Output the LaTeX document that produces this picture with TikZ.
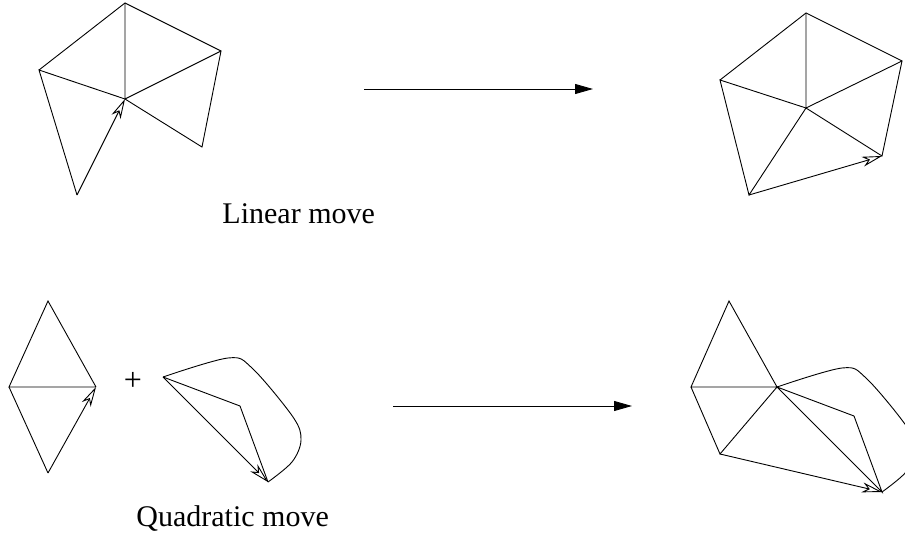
\documentclass[tikz,border=0pt]{standalone}
\usepackage{fontspec}
\setmainfont{Liberation Serif}
\usetikzlibrary{arrows.meta}

\begin{document}
\begin{tikzpicture}[x=1pt, y=-1pt, line width=0.9pt, >={Triangle[length=18pt,width=10pt]},
  vec/.style={-{Stealth[open,length=20pt,width=10pt,inset=6pt]}},
  lbl/.style={inner sep=0pt, anchor=base west, font=\fontsize{30}{36}\selectfont}]
  \clip (0,0) rectangle (905,543);

  % linear move, before
  \coordinate (t1) at (125,3);
  \coordinate (l1) at (39,70);
  \coordinate (r1) at (221,51);
  \coordinate (c1) at (125,99);
  \coordinate (b1) at (77,195);
  \coordinate (d1) at (202,147);
  \draw (l1) -- (t1) -- (r1) -- (d1) -- (c1) -- (l1) -- (b1);
  \draw (t1) -- (c1) -- (r1);
  \draw[vec] (b1) -- (c1);

  % linear move, after
  \coordinate (t2) at (806,13);
  \coordinate (l2) at (720,80);
  \coordinate (r2) at (902,61);
  \coordinate (c2) at (806,108);
  \coordinate (b2) at (749,195);
  \coordinate (d2) at (882,156);
  \draw (l2) -- (t2) -- (r2) -- (d2) -- (c2) -- (l2) -- (b2) -- (c2);
  \draw (t2) -- (c2) -- (r2);
  \draw[vec] (b2) -- (d2);

  \coordinate (m1) at (364,89);
  \coordinate (m2) at (593,89);
  \draw[->] (m1) -- (m2);
  \node[lbl] (lin) at (222,223) {Linear move};

  % quadratic move, before
  \coordinate (n1) at (48,301);
  \coordinate (w1) at (9,387);
  \coordinate (e1) at (96,387);
  \coordinate (s1) at (48,473);
  \draw (e1) -- (n1) -- (w1) -- (e1);
  \draw (w1) -- (s1);
  \draw[vec] (s1) -- (e1);
  \node[inner sep=0pt, font=\fontsize{32}{36}\selectfont] (plus) at (133,381) {+};

  \coordinate (p1) at (163,377);
  \coordinate (q1) at (240,406);
  \coordinate (k1) at (268,482);
  \draw (p1) -- (q1) -- (k1);
  \draw[vec] (p1) -- (k1);
  \draw plot[smooth, tension=0.55] coordinates {(p1) (228,358) (252,368) (293,417) (301,440) (292,462) (k1)};

  % quadratic move, after
  \coordinate (n2) at (729,301);
  \coordinate (w2) at (691,387);
  \coordinate (e2) at (777,387);
  \coordinate (s2) at (720,454);
  \coordinate (q2) at (854,416);
  \coordinate (k2) at (882,492);
  \draw (e2) -- (n2) -- (w2) -- (e2) -- (s2) -- (w2);
  \draw (e2) -- (q2) -- (k2) -- (e2);
  \draw[vec] (s2) -- (k2);
  \draw plot[smooth, tension=0.55] coordinates {(e2) (842,368) (866,378) (907,427) (915,450) (906,472) (k2)};

  \coordinate (m3) at (393,406);
  \coordinate (m4) at (632,406);
  \draw[->] (m3) -- (m4);
  \node[lbl] (quad) at (136,526) {Quadratic move};
\end{tikzpicture}
\end{document}
